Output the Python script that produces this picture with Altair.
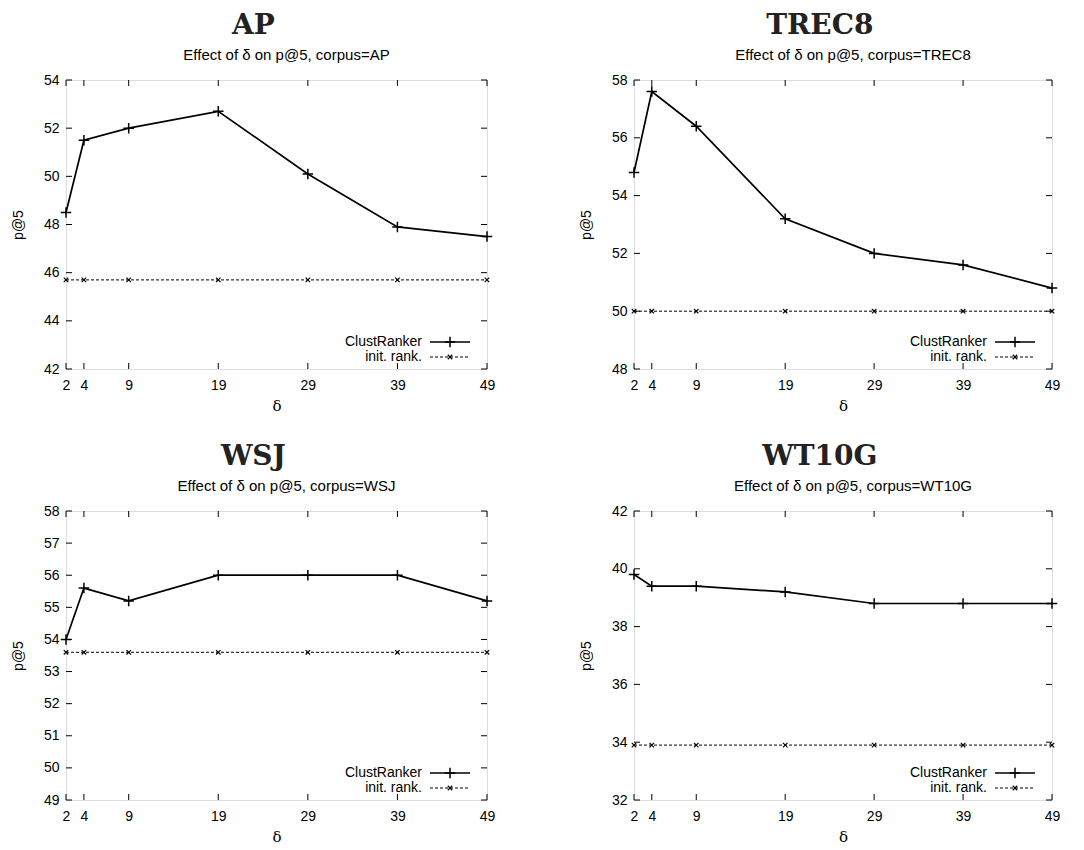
import altair as alt
import pandas as pd

# ---- data ----
deltas = [2, 4, 9, 19, 29, 39, 49]

clust_ap = [48.5, 51.5, 52.0, 52.7, 50.1, 47.9, 47.5]
init_ap = [45.7, 45.7, 45.7, 45.7, 45.7, 45.7, 45.7]
yticks_ap = [42, 44, 46, 48, 50, 52, 54]

clust_trec8 = [54.8, 57.6, 56.4, 53.2, 52.0, 51.6, 50.8]
init_trec8 = [50.0, 50.0, 50.0, 50.0, 50.0, 50.0, 50.0]
yticks_trec8 = [48, 50, 52, 54, 56, 58]

clust_wsj = [54.0, 55.6, 55.2, 56.0, 56.0, 56.0, 55.2]
init_wsj = [53.6, 53.6, 53.6, 53.6, 53.6, 53.6, 53.6]
yticks_wsj = [49, 50, 51, 52, 53, 54, 55, 56, 57, 58]

clust_wt10g = [39.8, 39.4, 39.4, 39.2, 38.8, 38.8, 38.8]
init_wt10g = [33.9, 33.9, 33.9, 33.9, 33.9, 33.9, 33.9]
yticks_wt10g = [32, 34, 36, 38, 40, 42]

series_names = ["ClustRanker", "init. rank."]

SANS = "Liberation Sans"
SERIF = "DejaVu Serif"
PLUS = "M-1,0L1,0M0,-1L0,1"
XMARK = "M-1,-1L1,1M-1,1L1,-1"
TICK = 6


def panel(name, clust, init, yticks, W, H):
    df = pd.DataFrame({
        "delta": deltas + deltas,
        "p5": clust + init,
        "series": [series_names[0]] * len(deltas) + [series_names[1]] * len(deltas),
    })
    xs = alt.Scale(domain=[deltas[0], deltas[-1]], nice=False, zero=False)
    ys = alt.Scale(domain=[yticks[0], yticks[-1]], nice=False, zero=False)
    x = alt.X("delta:Q", scale=xs,
              axis=alt.Axis(values=deltas, title="δ", tickSize=0, domain=False, grid=False,
                            labelPadding=9, labelFont=SANS, labelFontSize=14, labelColor="black",
                            titleFont=SERIF, titleFontSize=15, titleFontWeight="normal",
                            titleColor="black", titlePadding=6, labelFlush=False,
                            labelOverlap=False))
    y = alt.Y("p5:Q", scale=ys,
              axis=alt.Axis(values=yticks, title="p@5", tickSize=0, domain=False, grid=False,
                            labelPadding=7, labelFont=SANS, labelFontSize=14, labelColor="black",
                            titleFont=SANS, titleFontSize=14, titleFontWeight="normal",
                            titleColor="black", titlePadding=18, labelFlush=False,
                            labelOverlap=False, labelSeparation=0))
    base = alt.Chart(df)
    c_line = base.transform_filter(alt.datum.series == series_names[0]).mark_line(
        color="black", strokeWidth=1.7).encode(x=x, y=y)
    c_pts = base.transform_filter(alt.datum.series == series_names[0]).mark_point(
        shape=PLUS, size=110, color="black", strokeWidth=1.5, filled=False, opacity=1).encode(x=x, y=y)
    i_line = base.transform_filter(alt.datum.series == series_names[1]).mark_line(
        color="black", strokeWidth=1, strokeDash=[3, 2]).encode(x=x, y=y)
    i_pts = base.transform_filter(alt.datum.series == series_names[1]).mark_point(
        shape=XMARK, size=20, color="black", strokeWidth=1.2, filled=False, opacity=1).encode(x=x, y=y)

    # inward, mirrored ticks (gnuplot style)
    ydf = pd.DataFrame({"p5": yticks})
    xdf = pd.DataFrame({"delta": deltas})
    yl = alt.Chart(ydf).mark_rule(color="black", strokeWidth=1).encode(
        y=y, x=alt.value(0), x2=alt.value(TICK))
    yr = alt.Chart(ydf).mark_rule(color="black", strokeWidth=1).encode(
        y=y, x=alt.value(W - TICK), x2=alt.value(W))
    xb = alt.Chart(xdf).mark_rule(color="black", strokeWidth=1).encode(
        x=x, y=alt.value(H - TICK), y2=alt.value(H))
    xt = alt.Chart(xdf).mark_rule(color="black", strokeWidth=1).encode(
        x=x, y=alt.value(0), y2=alt.value(TICK))

    # key (inside, bottom right)
    k1 = pd.DataFrame({"label": [series_names[0]]})
    k2 = pd.DataFrame({"label": [series_names[1]]})
    r1, r2 = H - 27, H - 12
    xe = W - 17
    xs0 = W - 57
    xm = (xe + xs0) / 2
    key = [
        alt.Chart(k1).mark_text(align="right", baseline="middle", font=SANS, fontSize=14, color="black").encode(
            text="label:N", x=alt.value(xs0 - 8), y=alt.value(r1)),
        alt.Chart(k2).mark_text(align="right", baseline="middle", font=SANS, fontSize=14, color="black").encode(
            text="label:N", x=alt.value(xs0 - 8), y=alt.value(r2)),
        alt.Chart(k1).mark_rule(color="black", strokeWidth=1.7).encode(
            x=alt.value(xs0), x2=alt.value(xe), y=alt.value(r1)),
        alt.Chart(k2).mark_rule(color="black", strokeWidth=1, strokeDash=[3, 2]).encode(
            x=alt.value(xs0), x2=alt.value(xe), y=alt.value(r2)),
        alt.Chart(k1).mark_point(shape=PLUS, size=110, color="black", strokeWidth=1.5, filled=False, opacity=1).encode(
            x=alt.value(xm), y=alt.value(r1)),
        alt.Chart(k2).mark_point(shape=XMARK, size=20, color="black", strokeWidth=1.2, filled=False, opacity=1).encode(
            x=alt.value(xm), y=alt.value(r2)),
    ]

    layer = alt.layer(c_line, i_line, i_pts, c_pts, yl, yr, xb, xt, *key).properties(
        width=W, height=H,
        title=alt.Title(f"Effect of δ on p@5, corpus={name}", font=SANS, fontSize=15,
                        fontWeight="normal", color="black", anchor="middle", offset=10, dx=10),
    )
    return alt.vconcat(layer, title=alt.Title(name, font=SERIF, fontSize=28, fontWeight="bold",
                                               color="#222222", anchor="middle", offset=8))


H = 289
p_ap = panel("AP", clust_ap, init_ap, yticks_ap, 421, H)
p_trec8 = panel("TREC8", clust_trec8, init_trec8, yticks_trec8, 418, H)
p_wsj = panel("WSJ", clust_wsj, init_wsj, yticks_wsj, 421, H)
p_wt10g = panel("WT10G", clust_wt10g, init_wt10g, yticks_wt10g, 418, H)

row1 = alt.hconcat(p_ap, p_trec8, spacing=82)
row2 = alt.hconcat(p_wsj, p_wt10g, spacing=82)
chart = alt.vconcat(row1, row2, spacing=28).properties(
    padding={"left": 2, "top": 3, "right": 0, "bottom": 0}
).configure_view(stroke="black", strokeWidth=1.5).configure_axis(
    labelOverlap=False
).configure(background="white")

chart.save("out.html", embed_options={"renderer": "svg", "actions": False})
